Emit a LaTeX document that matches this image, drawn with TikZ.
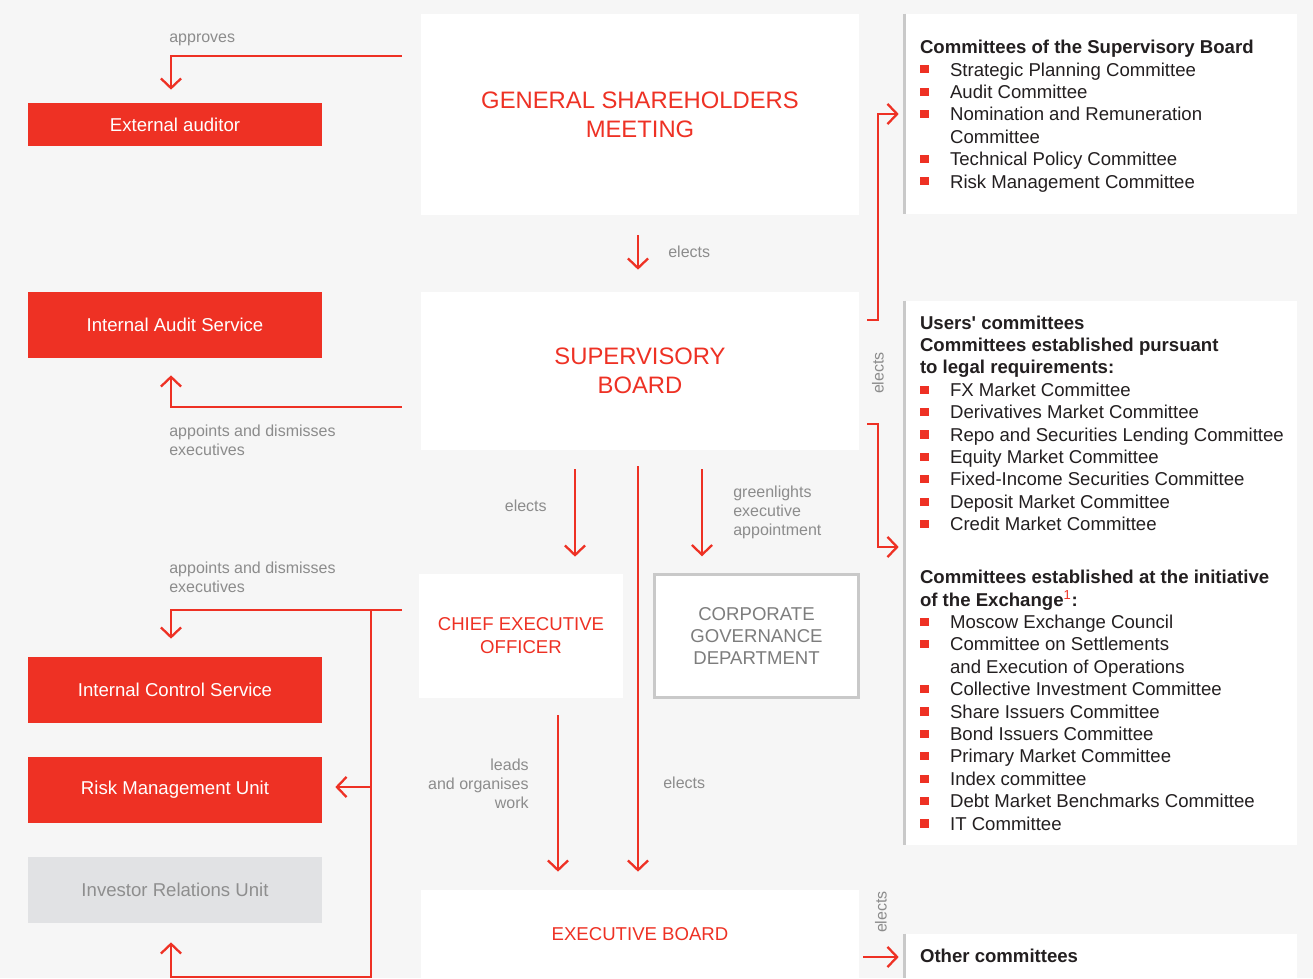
\documentclass[tikz,border=0pt]{standalone}
\usepackage{fontspec}
\setmainfont{Liberation Sans}
\usepackage{tikz}
\usetikzlibrary{arrows.meta, calc}

\definecolor{exred}{HTML}{EE3124}
\definecolor{labgray}{HTML}{8C8C8C}
\definecolor{ink}{HTML}{231F20}
\definecolor{pagebg}{HTML}{F6F6F6}
\definecolor{barg}{HTML}{C9C9C9}
\definecolor{irufill}{HTML}{E1E2E4}
\definecolor{irutext}{HTML}{8E8E8E}
\definecolor{cgdtext}{HTML}{7D7D7D}

\newcommand{\bsq}{\makebox[17.1pt][l]{\textcolor{exred}{\rule[1.5pt]{5pt}{4.6pt}}}}
\newcommand{\bind}{\hspace*{17.1pt}}

\tikzstyle{arr} = [draw=exred, line width=1.3pt, -{Straight Barb[length=5.5pt,width=11.5pt]}]
\tikzstyle{redbox} = [rectangle, fill=exred, text=white, inner sep=0pt,
  minimum width=5.88cm, minimum height=1.32cm, font=\fontsize{10.58}{12.75}\selectfont]
\tikzstyle{wbox} = [rectangle, fill=white, text=exred, align=center, inner sep=0pt]
\tikzstyle{panel} = [rectangle, fill=white, inner sep=0pt, minimum width=7.88cm]
\tikzstyle{listtxt} = [align=left, inner sep=0pt, text=ink, font=\fontsize{10.58}{12.75}\selectfont]
\tikzstyle{bar} = [draw=barg, line width=1.7pt]

\begin{document}
\begin{tikzpicture}[x=0.02cm, y=-0.02cm]

    \tikzstyle{lbl} = [text=labgray, inner sep=0pt, font=\fontsize{9.1}{10.8}\selectfont];

    \useasboundingbox (0,0) rectangle (1313,978);
    \fill [pagebg] (0,0) rectangle (1313,978);

    % left column
    \node [redbox, minimum height=0.86cm] at (175,124.5) (extaud) {External auditor};
    \node [redbox] at (175,325) (ias) {Internal Audit Service};
    \node [redbox] at (175,690) (ics) {Internal Control Service};
    \node [redbox] at (175,790) (rmu) {Risk Management Unit};
    \node [redbox, fill=irufill, text=irutext] at (175,890) (iru) {Investor Relations Unit};

    % centre column
    \node [wbox, minimum width=8.76cm, minimum height=4.02cm,
      font=\fontsize{13.55}{16.5}\selectfont] at (640,114.5) (gsm) {GENERAL SHAREHOLDERS\\MEETING};
    \node [wbox, minimum width=8.76cm, minimum height=3.16cm,
      font=\fontsize{13.55}{16.5}\selectfont] at (640,371) (sb) {SUPERVISORY\\BOARD};
    \node [wbox, minimum width=4.08cm, minimum height=2.48cm,
      font=\fontsize{10.58}{13.1}\selectfont] at (521,636) (ceo) {CHIEF EXECUTIVE\\OFFICER};
    \node [wbox, draw=barg, line width=1.7pt, text=cgdtext, minimum width=4.07cm, minimum height=2.45cm,
      font=\fontsize{10.58}{12.75}\selectfont] at (756.5,636) (cgd) {CORPORATE\\GOVERNANCE\\DEPARTMENT};
    \node [wbox, minimum width=8.76cm, minimum height=1.76cm,
      font=\fontsize{10.58}{12.75}\selectfont] at (640,934) (eb) {EXECUTIVE BOARD};

    % right column
    \node [panel, minimum height=4.0cm] at (1100,114) (csb) {};
    \node [panel, minimum height=10.88cm] at (1100,573) (ucom) {};
    \node [panel, minimum height=0.88cm] at (1100,956) (other) {};
    \draw [bar] ($(csb.north west)+(2,0)$) -- ($(csb.south west)+(2,0)$);
    \draw [bar] ($(ucom.north west)+(2,0)$) -- ($(ucom.south west)+(2,0)$);
    \draw [bar] ($(other.north west)+(2,0)$) -- ($(other.south west)+(2,0)$);

    \node [listtxt, anchor=west] at ($(csb.west)+(17,2)$) (csbtxt) {%
      \textbf{Committees of the Supervisory Board}\\
      \bsq Strategic Planning Committee\\
      \bsq Audit Committee\\
      \bsq Nomination and Remuneration\\
      \bind Committee\\
      \bsq Technical Policy Committee\\
      \bsq Risk Management Committee};

    \node [listtxt, anchor=west] at ($(ucom.west)+(17,0)$) (ucomtxt) {%
      \textbf{Users\textquotesingle{} committees}\\
      \textbf{Committees established pursuant}\\
      \textbf{to legal requirements:}\\
      \bsq FX Market Committee\\
      \bsq Derivatives Market Committee\\
      \bsq Repo and Securities Lending Committee\\
      \bsq Equity Market Committee\\
      \bsq Fixed-Income Securities Committee\\
      \bsq Deposit Market Committee\\
      \bsq Credit Market Committee\\[17.4pt]
      \textbf{Committees established at the initiative}\\
      \textbf{of the Exchange\textsuperscript{\textcolor{exred}{\mdseries 1}}:}\\
      \bsq Moscow Exchange Council\\
      \bsq Committee on Settlements\\
      \bind and Execution of Operations\\
      \bsq Collective Investment Committee\\
      \bsq Share Issuers Committee\\
      \bsq Bond Issuers Committee\\
      \bsq Primary Market Committee\\
      \bsq Index committee\\
      \bsq Debt Market Benchmarks Committee\\
      \bsq IT Committee};

    \node [listtxt, anchor=west, font=\fontsize{10.58}{12.75}\selectfont\bfseries]
      at ($(other.west)+(17,0)$) (othertxt) {Other committees};

    % connectors
    \draw [arr] ($(gsm.north west)+(-19,42)$) -| ($(extaud.north)+(-4,-13)$);
    \draw [arr] ($(gsm.south)+(-2,20)$) -- ($(sb.north)+(-2,-22)$);
    \draw [arr] ($(sb.south west)+(-19,-43)$) -| ($(ias.south)+(-4,17)$);
    \draw [arr] ($(sb.south)+(-65,19)$) -- ($(ceo.north)+(54,-17)$);
    \draw [arr] ($(sb.south)+(-2,16)$) -- ($(eb.north)+(-2,-18)$);
    \draw [arr] ($(sb.south)+(62,19)$) -- ($(cgd.north)+(-54.5,-17)$);
    \draw [arr] ($(ceo.south)+(37,17)$) -- ($(eb.north)+(-82,-18)$);

    \draw [arr] ($(ceo.west)+(-17,-26)$) -| ($(ics.north)+(-4,-18)$);
    \coordinate (bus) at ($(ceo.west)+(-48,-26)$);
    \draw [arr] (bus) |- ($(iru.south)+(-4,54)$) -- ($(iru.south)+(-4,19)$);
    \draw [arr] (bus |- rmu.east) ++(0,-3) -- ($(rmu.east)+(13,-3)$);

    \draw [arr] ($(sb.north east)+(8,28)$) -| ($(csb.west)+(-25,0)$) -- ($(csb.west)+(-4,0)$);
    \draw [arr] ($(sb.south east)+(8,-26)$) -| ($(ucom.west)+(-25,-26)$) -- ($(ucom.west)+(-4,-26)$);
    \draw [arr] ($(eb.east)+(4,23)$) -- ($(other.west)+(-4,1)$);

    % labels (base = last line)
    \node [lbl, anchor=base west] at (169,42) (lapp) {approves};
    \node [lbl, anchor=base west] at (668,257) (lsb) {elects};
    \node [lbl, anchor=base west, align=left] at (169,455) (lias) {appoints and dismisses\\executives};
    \node [lbl, anchor=base west, align=left] at (169,592) (lics) {appoints and dismisses\\executives};
    \node [lbl, anchor=base east] at (547,511) (lceo) {elects};
    \node [lbl, anchor=base west, align=left] at (733,535) (lcgd) {greenlights\\executive\\appointment};
    \node [lbl, anchor=base east, align=right] at (529,808) (llead) {leads\\and organises\\work};
    \node [lbl, anchor=base west] at (663,788) (leb) {elects};
    \node [lbl, rotate=90] at (878,373) (lcom) {elects};
    \node [lbl, rotate=90] at (881,912) (loth) {elects};

\end{tikzpicture}
\end{document}
